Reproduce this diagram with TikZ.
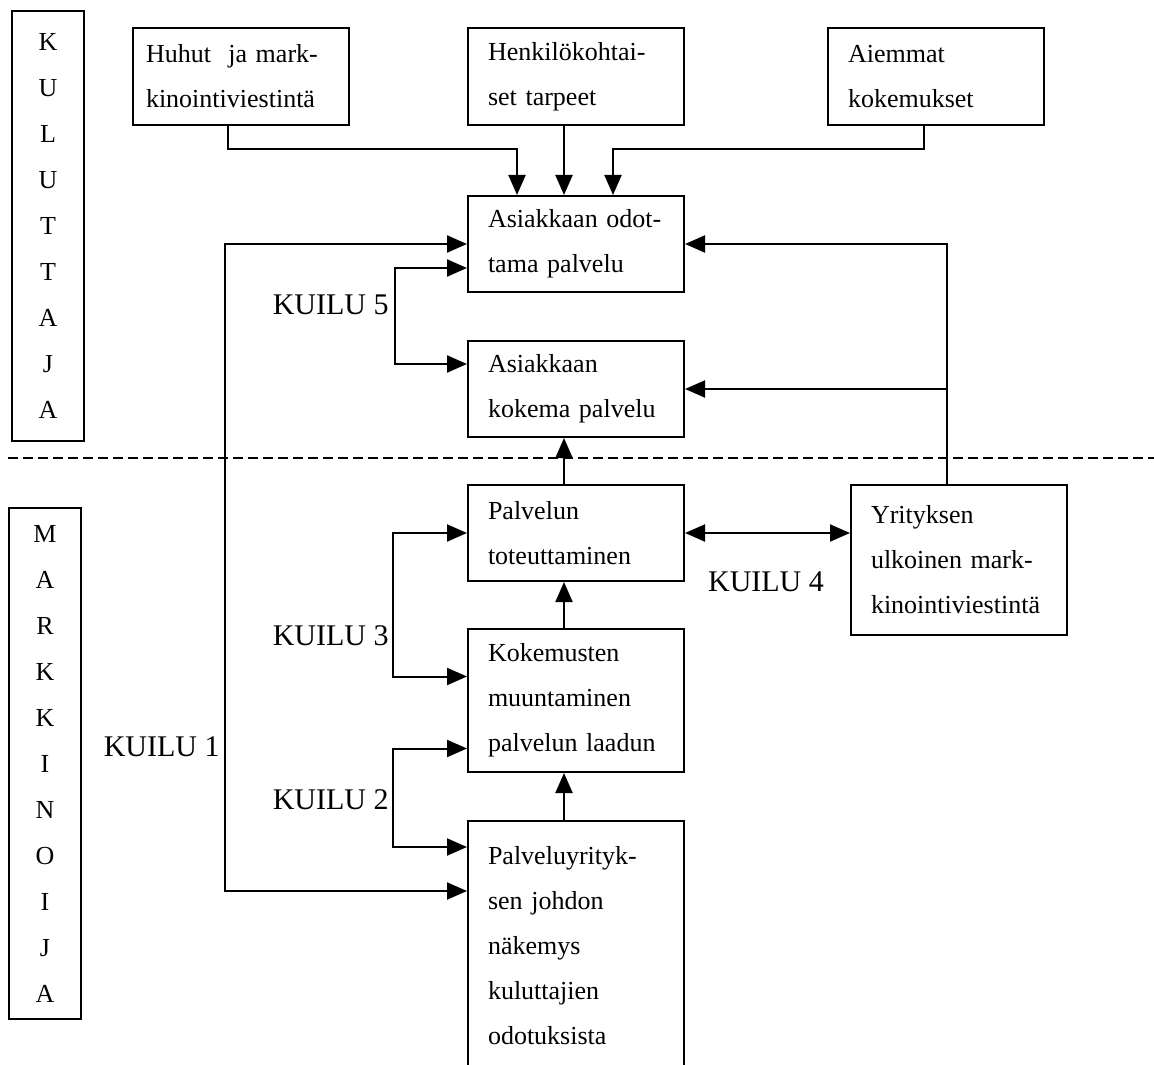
\documentclass[tikz,border=0pt]{standalone}
\usepackage{fontspec}
\setmainfont{Liberation Serif}
\usetikzlibrary{arrows.meta}

\tikzset{
  block/.style={draw, line width=1pt, anchor=north west, text width=88pt,
    inner xsep=10pt, inner ysep=0pt, align=left,
    font=\fontsize{13}{22.5}\selectfont},
  sidebox/.style={draw, line width=1pt, anchor=north west, minimum width=36pt,
    inner sep=0pt, align=center, font=\fontsize{13}{23}\selectfont},
  kuilu/.style={inner sep=0pt, anchor=east, font=\fontsize{15}{18}\selectfont},
  conn/.style={line width=1pt, -{Triangle[length=10pt,width=8.5pt]}},
  conn2/.style={line width=1pt,
    {Triangle[length=10pt,width=8.5pt]}-{Triangle[length=10pt,width=8.5pt]}},
}

\begin{document}
\begin{tikzpicture}[x=0.5pt, y=-0.5pt]

\useasboundingbox (0,0) rectangle (1154,1064);
\clip (0,0) rectangle (1154,1064);

%% side labels
\node[sidebox, minimum height=215pt] (kulu) at (11,10)
  {K\\U\\L\\U\\T\\T\\A\\J\\A};
\node[sidebox, minimum height=255.5pt] (mark) at (8,507)
  {M\\A\\R\\K\\K\\I\\N\\O\\I\\J\\A};

%% border between consumer and marketer
\draw[line width=1pt, dash pattern=on 5pt off 2.5pt] (8,458) -- (1154,458);

%% consumer side
\node[block, inner xsep=6.5pt, text width=95pt, minimum height=48.5pt] (huhut) at (132,27)
  {Huhut\ \ ja mark-\\kinointiviestintä};
\node[block, minimum height=48.5pt] (henk) at (467,27)
  {Henkilökohtai-\\set tarpeet};
\node[block, minimum height=48.5pt] (aiem) at (827,27)
  {Aiemmat\\kokemukset};
\node[block, minimum height=48pt] (odot) at (467,195)
  {Asiakkaan odot-\\tama palvelu};
\node[block, minimum height=48pt] (koke) at (467,340)
  {Asiakkaan\\kokema palvelu};

%% marketer side
\node[block, minimum height=48pt] (tote) at (467,484)
  {Palvelun\\toteuttaminen};
\node[block, minimum height=71.5pt] (muun) at (467,628)
  {Kokemusten\\muuntaminen\\palvelun laadun};
\node[block, minimum height=125pt] (johto) at (467,820)
  {Palveluyrityk-\\sen johdon\\näkemys\\kuluttajien\\odotuksista};
\node[block, minimum height=75pt] (yrit) at (850,484)
  {Yrityksen\\ulkoinen mark-\\kinointiviestintä};

%% inputs to expected service
\draw[conn] ([xshift=-6.5pt]huhut.south) -- ++(0,23) -| ([xshift=-29.5pt]odot.north);
\draw[conn] ([xshift=-6pt]henk.south) -- ([xshift=-6pt]odot.north);
\draw[conn] ([xshift=-6pt]aiem.south) -- ++(0,23) -| ([xshift=18.5pt]odot.north);

%% external communication
\draw[conn] ([xshift=-6pt]yrit.north) |- (odot.east);
\draw[conn] ([xshift=-6pt]yrit.north) |- (koke.east);

%% chain upwards
\draw[conn] ([xshift=-6pt]tote.north) -- ([xshift=-6pt]koke.south);
\draw[conn] ([xshift=-6pt]muun.north) -- ([xshift=-6pt]tote.south);
\draw[conn] ([xshift=-6pt]johto.north) -- ([xshift=-6pt]muun.south);

%% gaps
\draw[conn2] ([yshift=-12pt]odot.west) -- ++(-72,0) |- ([yshift=12.5pt]koke.west);
\draw[conn2] (odot.west) -- ++(-242,0) |- ([yshift=-35.5pt]johto.north west);
\draw[conn2] (tote.east) -- (tote.east -| yrit.west);
\draw[conn2] (tote.west) -- ++(-74,0) |- ([yshift=12pt]muun.west);
\draw[conn2] ([yshift=-24pt]muun.west) -- ++(-74,0) |- ([yshift=-13.5pt]johto.north west);

\node[kuilu] (k5) at (389,305) {KUILU 5};
\node[kuilu] (k1) at (220,747) {KUILU 1};
\node[kuilu] (k3) at (389,636) {KUILU 3};
\node[kuilu] (k2) at (389,800) {KUILU 2};
\node[kuilu, anchor=center] (k4) at (766,582) {KUILU 4};

\end{tikzpicture}
\end{document}
